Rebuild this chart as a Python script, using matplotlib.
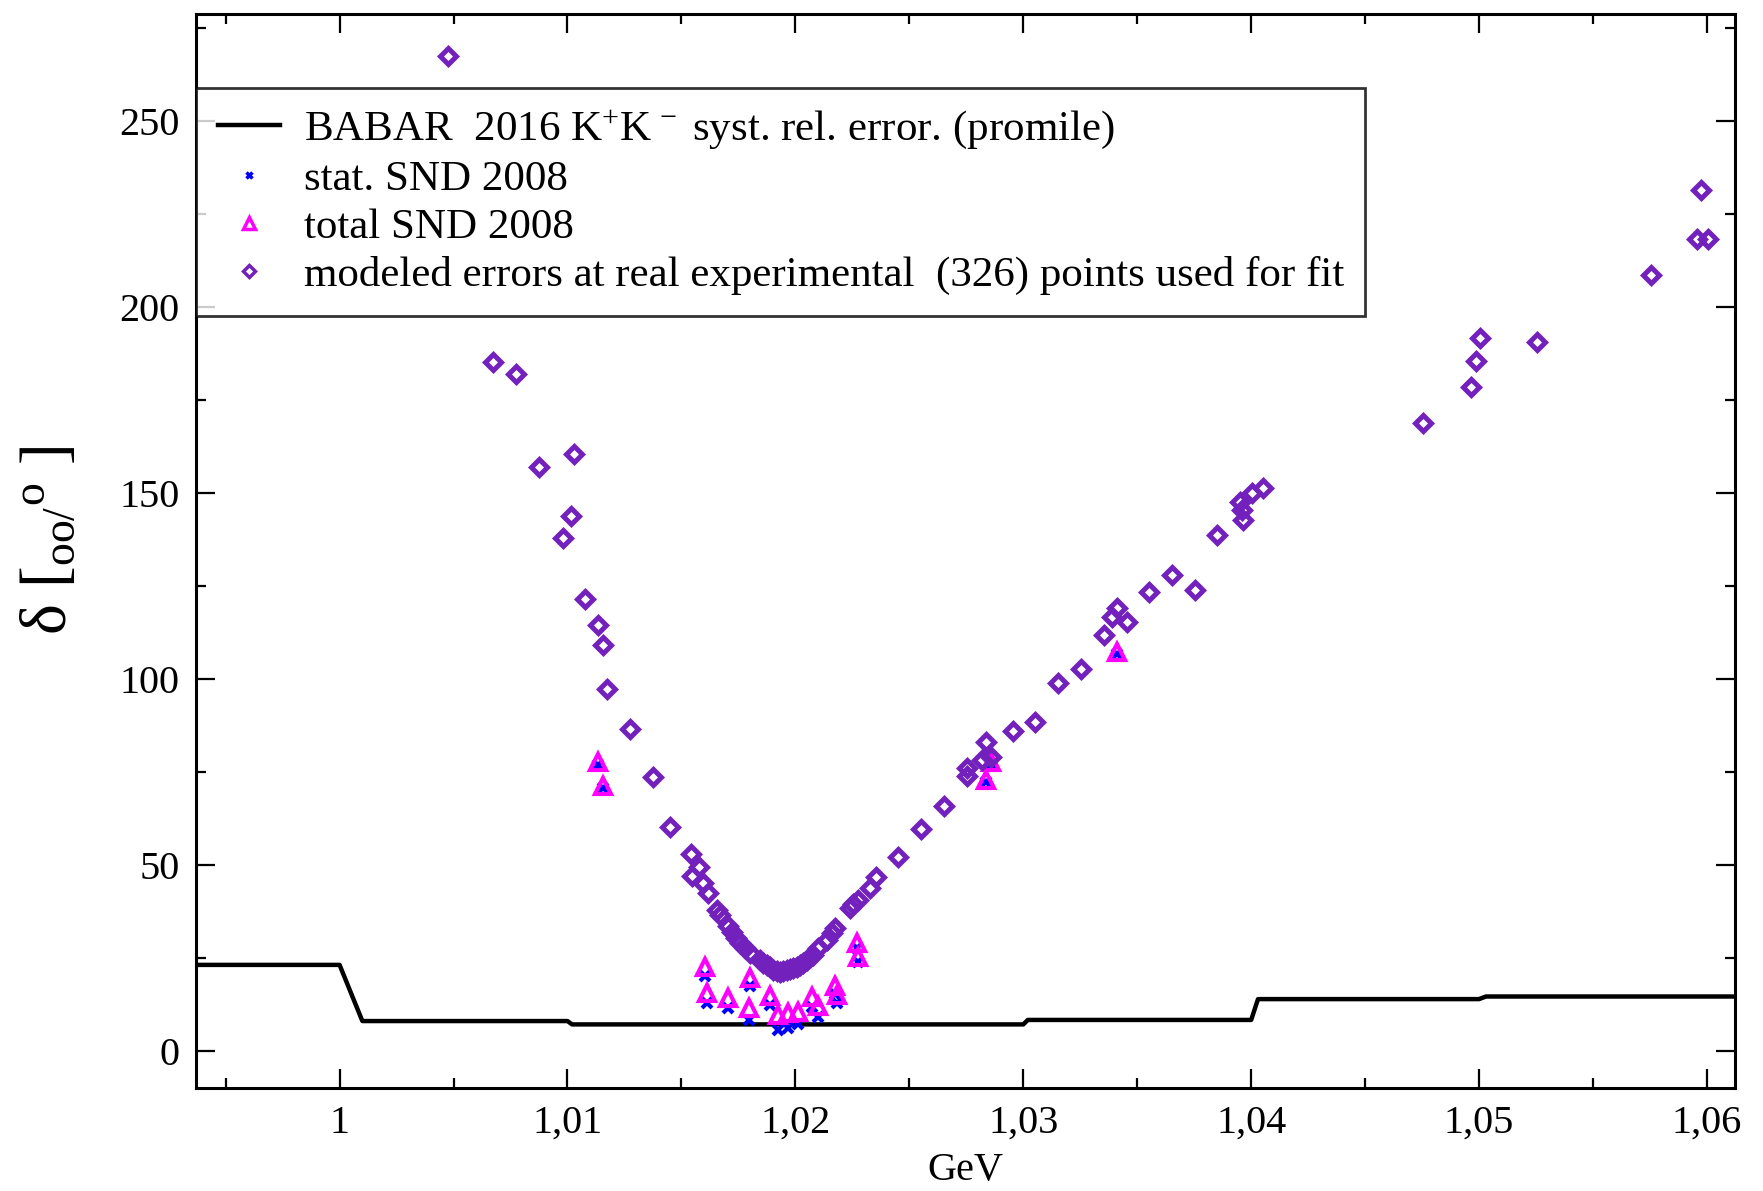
import numpy as np
import matplotlib
matplotlib.use("Agg")
import matplotlib.pyplot as plt
from matplotlib.lines import Line2D
from matplotlib.ticker import MultipleLocator, FuncFormatter

plt.rcParams['font.family'] = ['Liberation Serif', 'DejaVu Serif']
plt.rcParams['mathtext.fontset'] = 'custom'
plt.rcParams['mathtext.rm'] = 'Liberation Serif'
plt.rcParams['mathtext.it'] = 'Liberation Serif:italic'

# BABAR 2016 systematic relative error (promile), step line
babar_x = [0.99, 1.0000, 1.0010, 1.0100, 1.0102, 1.0300, 1.0302, 1.0400, 1.0403, 1.0500, 1.0503, 1.07]
babar_y = [23.2, 23.2, 8.1, 8.1, 7.2, 7.2, 8.4, 8.4, 14.0, 14.0, 14.7, 14.7]

# SND 2008 points: total and stat errors
snd_x = [1.01135, 1.01157, 1.01603, 1.01611, 1.01706, 1.01801, 1.01798, 1.01889, 1.01925, 1.01969,
         1.02013, 1.02071, 1.02100, 1.02174, 1.02181, 1.02269, 1.02276, 1.02835, 1.02858, 1.03410]
snd_total = [77.8, 71.4, 22.7, 15.6, 14.2, 19.6, 11.7, 14.9, 9.8, 10.2,
             10.6, 14.7, 12.1, 17.5, 15.2, 29.1, 25.3, 72.9, 77.8, 107.4]
snd_stat = [77.0, 70.8, 20.3, 13.0, 11.5, 17.5, 8.5, 12.5, 5.8, 6.3,
            7.3, 12.0, 9.3, 15.3, 13.0, 27.8, 24.0, 72.3, 77.2, 106.8]

# modeled errors at experimental points
mod_x = [1.00474, 1.00674, 1.00774, 1.00873, 1.00979, 1.01017, 1.01030, 1.01075, 1.01135, 1.01157,
         1.01175, 1.01276, 1.01375, 1.01451, 1.01541, 1.01548, 1.01577, 1.01596, 1.01618, 1.01655,
         1.01669, 1.01706, 1.01720, 1.01740, 1.01757, 1.01779, 1.01801, 1.01845, 1.01860, 1.01874,
         1.01889, 1.01903, 1.01918, 1.01932, 1.01947, 1.01962, 1.01976, 1.01991, 1.02005, 1.02020,
         1.02035, 1.02050, 1.02064, 1.02079, 1.02101, 1.02137, 1.02159, 1.02174, 1.02240, 1.02255,
         1.02276, 1.02327, 1.02352, 1.02452, 1.02551, 1.02651, 1.02752, 1.02752, 1.02820, 1.02835,
         1.02857, 1.02953, 1.03051, 1.03151, 1.03253, 1.03354, 1.03388, 1.03410, 1.03454, 1.03552,
         1.03652, 1.03753, 1.03852, 1.03951, 1.03958, 1.03965, 1.04002, 1.04050, 1.04755, 1.04963,
         1.04985, 1.05004, 1.05254, 1.05754, 1.05957, 1.05972, 1.06006]
mod_y = [267.6, 185.2, 182.0, 157.2, 138.1, 144.0, 160.6, 121.6, 114.7, 109.1,
         97.4, 86.6, 73.8, 60.2, 53.0, 47.2, 49.4, 45.2, 42.5, 38.0,
         36.6, 33.7, 32.0, 30.3, 29.0, 27.7, 26.3, 24.5, 23.8, 23.2,
         22.5, 21.9, 21.6, 21.4, 21.5, 21.9, 22.1, 22.3, 22.7, 23.2,
         23.8, 24.5, 25.2, 25.9, 27.7, 29.9, 31.7, 33.1, 38.4, 39.5,
         40.7, 43.8, 46.8, 52.2, 59.7, 65.8, 76.1, 74.1, 78.3, 83.2,
         79.2, 86.2, 88.6, 99.1, 102.7, 111.9, 116.8, 119.2, 115.5, 123.5,
         128.0, 124.0, 138.8, 147.7, 145.5, 142.8, 150.0, 151.5, 168.8, 178.7,
         185.5, 191.8, 190.8, 208.7, 218.5, 231.5, 218.5]

purple = '#7221bc'
magenta = '#ff00ff'
blue = '#0000ff'

fig = plt.figure(figsize=(17.63, 11.91), dpi=100)
ax = fig.add_axes([196 / 1763, 1 - 1088 / 1191, 1539 / 1763, 1074.5 / 1191])

ax.plot(babar_x, babar_y, color='black', lw=3.2)
ax.plot(snd_x, snd_stat, ls='none', marker='x', ms=7, mew=3, color=blue)
ax.plot(snd_x, snd_total, ls='none', marker='^', ms=11, mew=3, mfc='none', mec=magenta)
ax.plot(mod_x, mod_y, ls='none', marker='D', ms=7.8, mew=3.6, mfc='none', mec=purple)

ax.set_xlim(0.99370, 1.06123)
ax.set_ylim(-9.9, 279)

ax.xaxis.set_major_locator(MultipleLocator(0.01))
ax.xaxis.set_minor_locator(MultipleLocator(0.005))
ax.yaxis.set_major_locator(MultipleLocator(50))
ax.yaxis.set_minor_locator(MultipleLocator(25))


def fmt_x(v, pos):
    s = ('%.2f' % v).rstrip('0').rstrip('.')
    return s.replace('.', ',')


ax.xaxis.set_major_formatter(FuncFormatter(fmt_x))
ax.tick_params(which='both', direction='in', top=True, right=True, width=1.6)
ax.tick_params(which='major', length=14, labelsize=29, pad=12)
ax.tick_params(which='minor', length=7)
for sp in ax.spines.values():
    sp.set_linewidth(2.2)

ax.set_xlabel('GeV', fontsize=29)
ax.xaxis.set_label_coords(0.5, -0.06)
fig.text(50 / 1763, 1 - 540 / 1191, r'δ [${}_{\mathrm{oo}/}{}^{\mathrm{o}}$ ]',
         rotation=90, ha='center', va='center', fontsize=47)

handles = [
    Line2D([], [], color='black', lw=3.2),
    Line2D([], [], ls='none', marker='x', ms=5, mew=2.5, color=blue),
    Line2D([], [], ls='none', marker='^', ms=8, mew=2.5, mfc='none', mec=magenta),
    Line2D([], [], ls='none', marker='D', ms=6, mew=2.5, mfc='none', mec=purple),
]
labels = [
    r'BABAR  2016 K$^{+}$K$^{\,-}$ syst. rel. error. (promile)',
    'stat. SND 2008',
    'total SND 2008',
    'modeled errors at real experimental  (326) points used for fit',
]
leg = ax.legend(handles, labels, loc='upper left', bbox_to_anchor=(0, 1 - (87.7 - 13.5) / 1074.5),
                borderaxespad=0, fontsize=31, frameon=True, fancybox=False, edgecolor='black',
                handlelength=1.45, handletextpad=0.55, labelspacing=0.2, borderpad=0.5)
leg.get_frame().set_linewidth(2.0)

fig.savefig('out.png', dpi=100)
